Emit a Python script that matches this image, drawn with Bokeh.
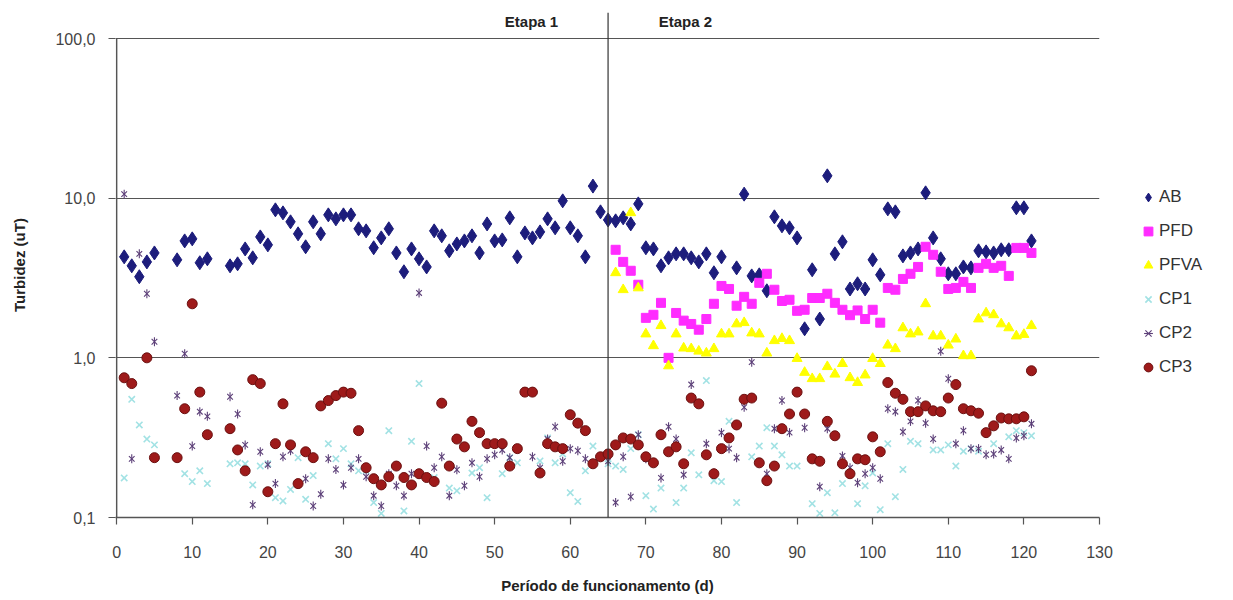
import math
from bokeh.plotting import figure
from bokeh.models import FixedTicker, Span, Label, Legend, LegendItem
from bokeh.embed import file_html
from bokeh.resources import INLINE

# ---------------- data ----------------
ab_days = [1, 2, 3, 4, 5, 8, 9, 10, 11, 12] + list(range(15, 81)) + list(range(82, 122))
ab_vals = [4.29, 3.77, 3.22, 3.99, 4.54, 4.11, 5.40, 5.56, 3.94, 4.17,
           3.77, 3.88, 4.81, 4.23, 5.72, 5.10, 8.45, 8.09, 7.11, 5.98,
           4.96, 7.11, 5.98, 7.86, 7.42, 7.86, 7.86, 6.43, 6.24, 4.89,
           5.64, 6.43, 4.54, 3.46, 4.81, 4.17, 3.71, 6.24, 5.81, 4.68,
           5.17, 5.40, 5.81, 4.54, 6.90, 5.40, 5.48, 7.53, 4.29, 6.06,
           5.64, 6.15, 7.42, 6.52, 9.62, 6.52, 5.81, 4.29, 11.9, 8.21,
           7.31, 7.21, 7.53, 6.90, 9.21, 4.89, 4.81, 3.77, 4.23, 4.48,
           4.48, 4.23, 3.99, 4.48, 3.41, 4.29,
           3.66, 10.6, 3.26, 3.31, 2.63, 7.64, 6.71, 6.52, 5.64, 1.52,
           3.56, 1.75, 13.8, 4.48, 5.33, 2.70, 2.91, 2.70, 4.11, 3.31,
           8.57, 8.21, 4.35, 4.54, 4.81, 10.8, 5.64, 4.17, 3.36, 3.36,
           3.71, 3.66, 4.68, 4.61, 4.54, 4.75, 4.75, 8.70, 8.70, 5.40]

pfd_days = list(range(66, 122))
pfd_vals = [4.75, 3.99, 3.51, 2.87, 1.78, 1.86, 2.21, 1.00, 1.91, 1.71,
            1.63, 1.50, 1.75, 2.18, 2.82, 2.70, 2.12, 2.41, 2.18, 2.95,
            3.36, 2.67, 2.27, 2.31, 1.97, 2.00, 2.37, 2.37, 2.52, 2.21,
            2.00, 1.85, 1.98, 1.75, 2.00, 1.66, 2.74, 2.67, 3.12, 3.36,
            3.71, 4.96, 4.42, 3.46, 2.70, 2.74, 2.99, 2.74, 3.66, 3.88,
            3.66, 3.77, 3.26, 4.88, 4.88, 4.54]

pfva_days = list(range(66, 122))
pfva_vals = [3.41, 2.67, 8.10, 2.74, 1.41, 1.19, 1.59, 0.89, 1.41, 1.15,
             1.14, 1.10, 1.07, 1.14, 1.41, 1.41, 1.63, 1.66, 1.43, 1.41,
             1.07, 1.28, 1.32, 1.28, 0.99, 0.81, 0.74, 0.74, 0.88, 0.79,
             0.92, 0.75, 0.70, 0.78, 0.99, 0.92, 1.20, 1.14, 1.54, 1.41,
             1.45, 2.18, 1.37, 1.37, 1.20, 1.31, 1.03, 1.03, 1.75, 1.91,
             1.86, 1.63, 1.54, 1.37, 1.40, 1.59]

cp1_days = [1, 2, 3, 4, 5, 9, 10, 11, 12, 15, 16, 17, 18, 19, 20, 21, 22, 23, 24, 25,
            26, 28, 29, 30, 31, 32, 33, 34, 35, 36, 38, 39, 40, 42, 44, 45, 47, 48, 49, 51,
            52, 53, 56, 57, 58, 59, 60, 61, 62, 63, 64, 65, 66, 67, 68, 69, 70, 71, 72, 74,
            75, 76, 77, 78, 79, 80, 81, 82, 84, 85, 86, 87, 88, 89, 90, 92, 93, 94, 95, 96,
            98, 99, 100, 101, 102, 103, 104, 105, 106, 108, 109, 110, 111, 112, 113, 114, 116, 118, 119, 120,
            121]
cp1_vals = [0.177, 0.55, 0.38, 0.31, 0.285, 0.188, 0.168, 0.196, 0.163, 0.217,
            0.22, 0.217, 0.16, 0.21, 0.217, 0.133, 0.127, 0.15, 0.237, 0.13,
            0.183, 0.29, 0.233, 0.27, 0.217, 0.196, 0.196, 0.124, 0.106, 0.35,
            0.11, 0.30, 0.69, 0.178, 0.153, 0.147, 0.19, 0.205, 0.133, 0.188,
            0.237, 0.22, 0.226, 0.315, 0.22, 0.25, 0.143, 0.126, 0.196, 0.28,
            0.24, 0.217, 0.21, 0.20, 0.27, 0.33, 0.137, 0.113, 0.153, 0.124,
            0.153, 0.254, 0.185, 0.72, 0.17, 0.168, 0.40, 0.124, 0.24, 0.28,
            0.365, 0.28, 0.247, 0.21, 0.21, 0.122, 0.106, 0.143, 0.107, 0.163,
            0.122, 0.158, 0.19, 0.112, 0.29, 0.135, 0.20, 0.30, 0.29, 0.265,
            0.265, 0.285, 0.21, 0.26, 0.27, 0.26, 0.29, 0.32, 0.35, 0.34,
            0.325]

cp2_days = [1, 2, 3, 4, 5, 8, 9, 10, 11, 12, 15, 16, 17, 18, 19, 20, 21, 22, 23, 25,
            26, 27, 28, 29, 30, 31, 32, 33, 34, 35, 36, 37, 38, 39, 40, 41, 42, 43, 44, 45,
            46, 47, 48, 49, 50, 51, 52, 55, 56, 57, 58, 59, 60, 61, 62, 65, 66, 67, 68, 69,
            70, 72, 73, 74, 75, 76, 78, 79, 80, 81, 82, 83, 84, 86, 87, 88, 89, 91, 93, 94,
            96, 97, 98, 99, 100, 101, 102, 103, 104, 105, 106, 107, 108, 109, 110, 111, 112, 113, 114, 115,
            116, 117, 118, 119, 120, 121]
cp2_vals = [10.6, 0.233, 4.48, 2.52, 1.26, 0.58, 1.06, 0.28, 0.46, 0.43,
            0.57, 0.445, 0.285, 0.12, 0.258, 0.214, 0.163, 0.24, 0.262, 0.175,
            0.118, 0.14, 0.233, 0.20, 0.16, 0.205, 0.233, 0.18, 0.137, 0.118,
            0.188, 0.158, 0.137, 0.188, 2.55, 0.28, 0.205, 0.24, 0.137, 0.199,
            0.158, 0.22, 0.18, 0.233, 0.247, 0.265, 0.237, 0.24, 0.205, 0.31,
            0.37, 0.225, 0.27, 0.262, 0.233, 0.225, 0.124, 0.24, 0.135, 0.33,
            0.233, 0.177, 0.37, 0.31, 0.185, 0.68, 0.29, 0.19, 0.34, 0.27,
            0.237, 0.49, 0.94, 0.188, 0.36, 0.54, 0.34, 0.365, 0.156, 0.36,
            0.243, 0.205, 0.165, 0.188, 0.205, 0.175, 0.48, 0.46, 0.344, 0.40,
            0.54, 0.39, 0.31, 1.10, 0.74, 0.29, 0.35, 0.27, 0.27, 0.247,
            0.25, 0.265, 0.233, 0.315, 0.325, 0.386]

cp3_days = [1, 2, 4, 5, 8, 9, 10, 11, 12] + list(range(15, 122))
cp3_vals = [0.75, 0.69, 1.00, 0.237, 0.237, 0.48, 2.18, 0.61, 0.33,
            0.36, 0.265, 0.196, 0.73, 0.69, 0.145, 0.29, 0.515, 0.285, 0.163,
            0.258, 0.237, 0.50, 0.54, 0.58, 0.61, 0.60, 0.35, 0.205, 0.175,
            0.16, 0.18, 0.21, 0.178, 0.16, 0.188, 0.178, 0.168, 0.52, 0.21,
            0.31, 0.277, 0.40, 0.34, 0.29, 0.29, 0.29, 0.21, 0.27, 0.61,
            0.61, 0.19, 0.29, 0.277, 0.27, 0.44, 0.39, 0.35, 0.217, 0.24,
            0.25, 0.285, 0.315, 0.31, 0.285, 0.24, 0.22, 0.33, 0.258, 0.277,
            0.217, 0.56, 0.515, 0.247, 0.188, 0.27, 0.315, 0.38, 0.55, 0.56,
            0.22, 0.17, 0.21, 0.36, 0.445, 0.61, 0.445, 0.233, 0.225, 0.40,
            0.325, 0.217, 0.188, 0.233, 0.23, 0.32, 0.258, 0.70, 0.60, 0.55,
            0.46, 0.46, 0.50, 0.466, 0.46, 0.56, 0.68, 0.48, 0.466, 0.45,
            0.34, 0.375, 0.42, 0.415, 0.415, 0.427, 0.83]

x_ticks = [0, 10, 20, 30, 40, 50, 60, 70, 80, 90, 100, 110, 120, 130]
y_ticks = [0.1, 1, 10, 100]
y_tick_labels = ["0,1", "1,0", "10,0", "100,0"]
stage_split = 65
stage_labels = ["Etapa 1", "Etapa 2"]

FONT = "Liberation Sans"
AXIS_GRAY = "#555555"

# frame extends a little above 100 so the stage line and stage labels fit
p = figure(width=1225, height=597, output_backend="svg", toolbar_location=None,
           x_range=(-0.15, 130), y_range=(0.1, 145.5), y_axis_type="log",
           frame_width=984, frame_height=505,
           min_border_left=115, min_border_right=126,
           min_border_top=12, min_border_bottom=80)
p.outline_line_color = None
p.background_fill_color = "white"
p.border_fill_color = "white"

# grid
p.xgrid.grid_line_color = None
p.ygrid.ticker = FixedTicker(ticks=y_ticks)
p.ygrid.grid_line_color = AXIS_GRAY
p.ygrid.grid_line_width = 1.2

# axes
p.xaxis.ticker = FixedTicker(ticks=x_ticks)
p.yaxis.ticker = FixedTicker(ticks=y_ticks)
p.yaxis.major_label_overrides = {t: l for t, l in zip(y_ticks, y_tick_labels)}
for ax in (p.xaxis[0], p.yaxis[0]):
    ax.axis_line_color = AXIS_GRAY
    ax.axis_line_width = 1.5
    ax.major_tick_line_color = AXIS_GRAY
    ax.major_tick_line_width = 1.2
    ax.major_tick_out = 7
    ax.major_tick_in = 0
    ax.minor_tick_line_color = None
    ax.major_label_text_font = FONT
    ax.major_label_text_font_size = "16px"
    ax.major_label_text_color = "#444444"
    ax.axis_label_text_font = FONT
    ax.axis_label_text_font_size = "15px"
    ax.axis_label_text_font_style = "bold"
    ax.axis_label_text_color = "#222222"
p.yaxis.axis_line_color = None  # drawn below, stopping at 100
p.xaxis.axis_label = "Período de funcionamento (d)"
p.yaxis.axis_label = "Turbidez (uT)"
p.xaxis.major_label_standoff = 21
p.xaxis.axis_label_standoff = 16
p.yaxis.major_label_standoff = 13
p.yaxis.axis_label_standoff = 24

# left axis line from 0.1 to 100
p.segment(x0=[0], y0=[y_ticks[0]], x1=[0], y1=[y_ticks[-1]], line_color=AXIS_GRAY, line_width=1.5)

# stage divider and labels
p.add_layout(Span(location=stage_split, dimension="height", line_color="#333333", line_width=1.2))
p.add_layout(Label(x=58.4, y=128, text=stage_labels[0], text_align="right", text_baseline="middle",
                   text_font=FONT, text_font_size="15px", text_font_style="bold", text_color="#222222"))
p.add_layout(Label(x=71.7, y=128, text=stage_labels[1], text_align="left", text_baseline="middle",
                   text_font=FONT, text_font_size="15px", text_font_style="bold", text_color="#222222"))

# series
r_ab = p.scatter(ab_days, ab_vals, marker="diamond", size=14, fill_color="#1d1d7c", line_color="#1d1d7c")
r_pfd = p.scatter(pfd_days, pfd_vals, marker="square", size=9, fill_color="#ff2cff", line_color="#ff2cff")
r_pfva = p.scatter(pfva_days, pfva_vals, marker="triangle", size=10, fill_color="#ffff00", line_color="#ffff00")
r_cp1 = p.scatter(cp1_days, cp1_vals, marker="x", size=9, line_color="#a2e2e4", line_width=1.6)
r_cp2a = p.scatter(cp2_days, cp2_vals, marker="x", size=8, line_color="#5c3f78", line_width=1.1)
r_cp2b = p.scatter(cp2_days, cp2_vals, marker="dash", angle=math.pi / 2, size=9, line_color="#5c3f78", line_width=1.1)
r_cp3 = p.scatter(cp3_days, cp3_vals, marker="circle", size=10, fill_color="#9e1a1a", line_color="#6b1010")

legend = Legend(items=[
    LegendItem(label="AB", renderers=[r_ab]),
    LegendItem(label="PFD", renderers=[r_pfd]),
    LegendItem(label="PFVA", renderers=[r_pfva]),
    LegendItem(label="CP1", renderers=[r_cp1]),
    LegendItem(label="CP2", renderers=[r_cp2a, r_cp2b]),
    LegendItem(label="CP3", renderers=[r_cp3]),
], location=(38, 136))
legend.border_line_color = None
legend.background_fill_alpha = 0
legend.padding = 0
legend.margin = 0
legend.spacing = 6
legend.glyph_width = 22
legend.glyph_height = 28
legend.label_height = 28
legend.label_standoff = 0
legend.label_text_font = FONT
legend.label_text_font_size = "17px"
legend.label_text_color = "#333333"
p.add_layout(legend, "right")

open("out.html", "w").write(file_html(p, INLINE))
